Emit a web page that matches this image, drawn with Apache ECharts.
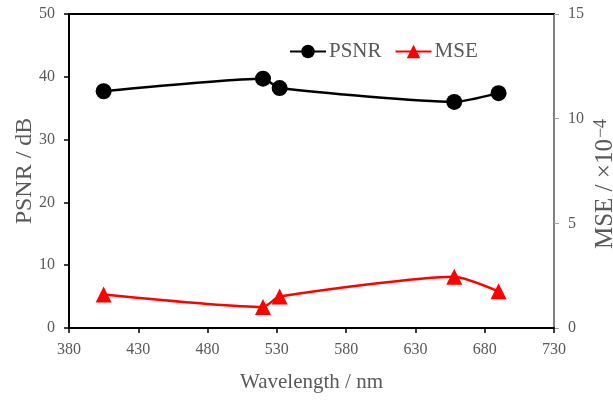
<!DOCTYPE html>
<html>
<head>
<meta charset="utf-8">
<script src="https://cdn.jsdelivr.net/npm/echarts@6/dist/echarts.min.js"></script>
<style>
  html, body { margin: 0; padding: 0; background: #fff; }
  #chart { width: 613px; height: 401px; }
</style>
</head>
<body>
<div id="chart"></div>
<script>
// Measured wavelengths (nm) and the two quality metrics at each
const wavelengths = [405, 520, 532, 658, 690];
const psnrValues = [37.7, 39.7, 38.2, 36.0, 37.4];   // dB
const mseValues = [1.6, 1.0, 1.5, 2.45, 1.75];       // ×10^-4
const xTickValues = [380, 430, 480, 530, 580, 630, 680, 730];

const serif = 'Liberation Serif';
const textGray = '#595959';

const chart = echarts.init(document.getElementById('chart'), null, { renderer: 'canvas' });

chart.setOption({
  backgroundColor: '#ffffff',
  animation: false,
  textStyle: { fontFamily: serif, color: textGray },
  grid: { left: 69, right: 59, top: 14, bottom: 73, containLabel: false, outerBoundsMode: 'none' },
  legend: {
    left: 284,
    top: 36,
    itemWidth: 36,
    itemHeight: 17,
    itemGap: 13,
    textStyle: { fontFamily: serif, fontSize: 21, color: textGray, padding: [0, 0, 0, -2] },
    data: ['PSNR', 'MSE']
  },
  xAxis: [
    {
      type: 'value',
      min: 380,
      max: 730,
      name: 'Wavelength / nm',
      nameLocation: 'middle',
      nameGap: 44,
      nameMoveOverlap: false,
      nameTextStyle: { fontFamily: serif, fontSize: 21, color: textGray },
      axisLine: { show: true, onZero: false, lineStyle: { color: '#000', width: 2 } },
      axisTick: { show: true, length: 5, lineStyle: { color: '#000', width: 1.5 }, customValues: xTickValues },
      axisLabel: { fontFamily: serif, fontSize: 16, color: textGray, margin: 14, customValues: xTickValues },
      splitLine: { show: false }
    },
    {
      // top border of the plot frame
      type: 'value',
      position: 'top',
      min: 380,
      max: 730,
      axisLine: { show: true, onZero: false, lineStyle: { color: '#000', width: 2 } },
      axisTick: { show: false },
      axisLabel: { show: false },
      splitLine: { show: false }
    }
  ],
  yAxis: [
    {
      type: 'value',
      min: 0,
      max: 50,
      interval: 10,
      position: 'left',
      name: 'PSNR / dB',
      nameLocation: 'middle',
      nameRotate: 90,
      nameGap: 32,
      nameMoveOverlap: false,
      nameTextStyle: { fontFamily: serif, fontSize: 24, color: textGray },
      axisLine: { show: true, onZero: false, lineStyle: { color: '#000', width: 2 } },
      axisTick: { show: true, length: 5, lineStyle: { color: '#000', width: 1.5 } },
      axisLabel: { fontFamily: serif, fontSize: 16, color: textGray, margin: 14 },
      splitLine: { show: false }
    },
    {
      type: 'value',
      min: 0,
      max: 15,
      interval: 5,
      position: 'right',
      name: 'MSE / ×10{sup|−4}',
      nameLocation: 'middle',
      nameRotate: 90,
      nameGap: 38,
      nameMoveOverlap: false,
      nameTextStyle: {
        fontFamily: serif, fontSize: 25, color: textGray,
        padding: [0, 26, 0, 0],
        rich: {
          sup: { fontFamily: serif, fontSize: 18, color: textGray, verticalAlign: 'top', padding: [0, 0, 8, 1] }
        }
      },
      axisLine: { show: true, onZero: false, lineStyle: { color: '#808080', width: 2 } },
      axisTick: { show: true, length: 5, lineStyle: { color: '#a0a0a0', width: 1 } },
      axisLabel: { fontFamily: serif, fontSize: 16, color: textGray, margin: 14 },
      splitLine: { show: false }
    }
  ],
  series: [
    {
      name: 'PSNR',
      type: 'line',
      yAxisIndex: 0,
      smooth: 0.2,
      symbol: 'circle',
      symbolSize: 16,
      itemStyle: { color: '#000' },
      lineStyle: { color: '#000', width: 2.5 },
      data: wavelengths.map((w, i) => [w, psnrValues[i]])
    },
    {
      name: 'MSE',
      type: 'line',
      yAxisIndex: 1,
      smooth: 0.2,
      symbol: 'triangle',
      symbolSize: 16,
      itemStyle: { color: '#ff0000' },
      lineStyle: { color: '#ff0000', width: 2.5 },
      data: wavelengths.map((w, i) => [w, mseValues[i]])
    }
  ]
});
</script>
</body>
</html>
